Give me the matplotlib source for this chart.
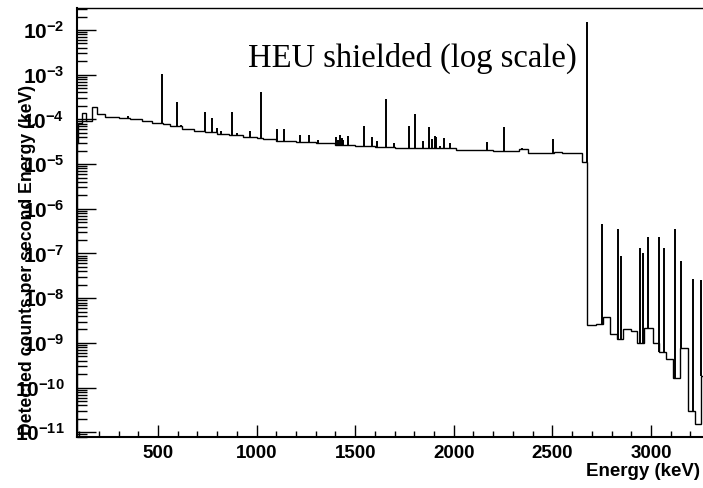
import numpy as np
import matplotlib
matplotlib.use("Agg")
import matplotlib.pyplot as plt
from matplotlib.ticker import MultipleLocator, FixedLocator, NullFormatter, FuncFormatter

# continuum as a step histogram: bin edges (keV) and rates
cont_edges = [89, 96, 114, 134, 166, 189, 230, 300, 360, 420, 470, 525, 560, 620,
              680, 740, 800, 860, 930, 1000, 1030, 1100, 1200, 1300, 1400, 1500,
              1600, 1700, 1800, 2010, 2200, 2330, 2375, 2510, 2550, 2652, 2677,
              2721, 2755, 2792, 2826, 2860, 2897, 2931, 2965, 3012, 3041, 3077,
              3113, 3148, 3187, 3224, 3253, 3270]
cont_vals = [3.0e-5, 8.5e-5, 1.4e-4, 9.0e-5, 1.9e-4, 1.3e-4, 1.11e-4, 1.05e-4,
             1.0e-4, 9.4e-5, 8.5e-5, 7.7e-5, 7.0e-5, 6.1e-5, 5.6e-5, 5.2e-5,
             4.8e-5, 4.5e-5, 4.1e-5, 3.9e-5, 3.6e-5, 3.3e-5, 3.1e-5, 2.9e-5,
             2.7e-5, 2.55e-5, 2.4e-5, 2.3e-5, 2.25e-5, 2.1e-5, 2.0e-5, 2.15e-5,
             1.8e-5, 1.9e-5, 1.8e-5, 1.13e-5, 2.5e-9, 2.6e-9, 3.8e-9, 1.6e-9,
             1.25e-9, 2.1e-9, 1.8e-9, 1.0e-9, 2.2e-9, 1.0e-9, 6.3e-10, 4.3e-10,
             1.6e-10, 7.6e-10, 3.0e-11, 1.55e-11, 1.8e-10]

# gamma lines: energy (keV) and peak height
peak_E = [350, 522, 595, 617, 738, 776, 798, 820, 877, 899, 965, 1022, 1102,
          1141, 1221, 1266, 1311, 1405, 1415, 1425, 1432, 1440, 1462, 1545,
          1587, 1609, 1655, 1697, 1775, 1802, 1846, 1872, 1888, 1905, 1910,
          1930, 1950, 1981, 2167, 2254, 2345, 2502, 2674,
          2753, 2831, 2848, 2944, 2958, 2987, 3041, 3066, 3122, 3151, 3213, 3254]
peak_h = [1.2e-4, 1.04e-3, 2.4e-4, 7.5e-5, 1.5e-4, 1.1e-4, 6.5e-5, 5.5e-5,
          1.5e-4, 5.0e-5, 5.5e-5, 4.0e-4, 6.2e-5, 6.2e-5, 4.5e-5, 4.5e-5,
          3.5e-5, 4.1e-5, 3.5e-5, 4.5e-5, 3.8e-5, 3.5e-5, 4.2e-5, 7.1e-5,
          4.0e-5, 3.3e-5, 2.8e-4, 3.0e-5, 7.1e-5, 1.3e-4, 3.3e-5, 6.9e-5,
          3.6e-5, 4.2e-5, 4.0e-5, 2.5e-5, 3.8e-5, 3.0e-5, 3.1e-5, 6.6e-5,
          2.3e-5, 3.6e-5, 1.5e-2,
          4.5e-7, 3.6e-7, 8.8e-8, 1.36e-7, 1.0e-7, 2.4e-7, 2.3e-7, 1.3e-7,
          3.55e-7, 6.9e-8, 2.65e-8, 2.6e-8]

decades = list(range(-11, -1))

plt.rcParams['font.family'] = 'Liberation Sans'
plt.rcParams['font.weight'] = 'bold'
plt.rcParams['mathtext.fontset'] = 'custom'
plt.rcParams['mathtext.bf'] = 'Liberation Sans:bold'
plt.rcParams['mathtext.rm'] = 'Liberation Sans:bold'
plt.rcParams['mathtext.default'] = 'bf'

W, H = 703, 488
fig = plt.figure(figsize=(W / 100, H / 100), dpi=100)
ax = fig.add_axes([77 / W, 51 / H, 626 / W, 429 / H])

edges = np.array(cont_edges, dtype=float)
vals = np.array(cont_vals)
ax.stairs(vals, edges, color='k', lw=1.0)

# peak bases: continuum level of the bin holding each line
idx = np.searchsorted(edges, peak_E, side='right') - 1
ax.vlines(peak_E, vals[idx], peak_h, color='k', lw=1.4)

ax.set_yscale('log')
ax.set_xlim(89, 3264)
ax.set_ylim(7.86e-12, 3.1e-2)

ax.xaxis.set_major_locator(MultipleLocator(500))
ax.xaxis.set_minor_locator(MultipleLocator(100))
major_y = [10.0 ** d for d in decades]
minor_y = [m * 10.0 ** d for d in [-12] + decades for m in range(2, 10)]
minor_y = [v for v in minor_y if 7.86e-12 < v < 3.1e-2]
ax.yaxis.set_major_locator(FixedLocator(major_y))
ax.yaxis.set_minor_locator(FixedLocator(minor_y))
ax.yaxis.set_major_formatter(FuncFormatter(
    lambda v, pos: r'$\mathbf{10^{%d}}$' % int(round(np.log10(v)))))
ax.yaxis.set_minor_formatter(NullFormatter())

ax.tick_params(axis='x', which='major', direction='in', length=9, width=1, labelsize=13.5, pad=6)
ax.tick_params(axis='x', which='minor', direction='in', length=4.5, width=1)
ax.tick_params(axis='y', which='major', direction='in', length=14, width=1, labelsize=15, pad=9)
ax.tick_params(axis='y', which='minor', direction='in', length=7, width=1)

ax.spines['right'].set_visible(False)
ax.spines['left'].set_linewidth(1.5)
ax.spines['bottom'].set_linewidth(1.5)
ax.spines['top'].set_linewidth(1.0)

fig.text(248 / W, 1 - 67 / H, 'HEU shielded (log scale)', family='Liberation Serif',
         weight='normal', fontsize=23.5, ha='left', va='baseline')
fig.text(700 / W, 1 - 472 / H, 'Energy (keV)', fontsize=13.5, ha='right', va='center')
fig.text(28 / W, 1 - 85 / H, 'Detected counts per second Energy (keV)', fontsize=12.7,
         rotation=90, ha='center', va='top')

fig.savefig('out.png', dpi=100)
